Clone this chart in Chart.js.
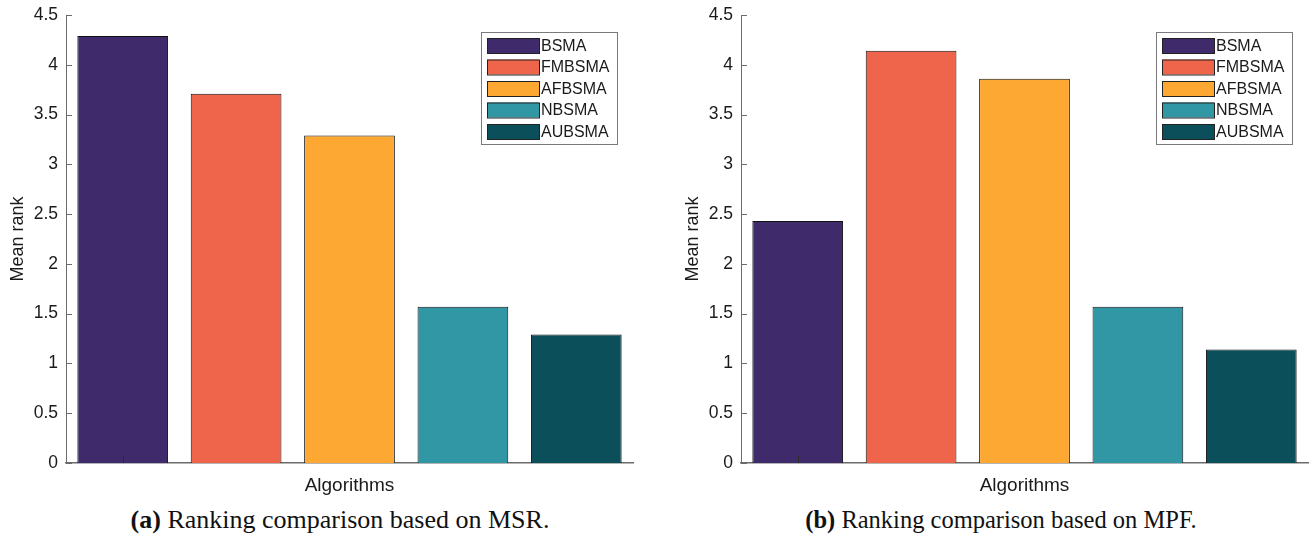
<!DOCTYPE html>
<html>
<head>
<meta charset="utf-8">
<script src="https://cdn.jsdelivr.net/npm/chart.js@4.4.1/dist/chart.umd.min.js"></script>
<style>
  html, body { margin: 0; padding: 0; background: #fff; }
  body { width: 1310px; height: 540px; position: relative; overflow: hidden; }
  .panel { position: absolute; top: 0; width: 636px; height: 500px; }
  .panel canvas { width: 636px !important; height: 500px !important; }
  .caption {
    position: absolute; top: 504px; width: 680px; text-align: center;
    font-family: "Liberation Serif", "Times New Roman", serif; font-size: 26px; color: #111;
    line-height: 32px;
  }
  .caption b { font-weight: bold; }
</style>
</head>
<body>
<div class="panel" style="left:0px"><canvas id="chartA" width="636" height="500"></canvas></div>
<div class="panel" style="left:675px"><canvas id="chartB" width="636" height="500"></canvas></div>
<div class="caption" style="left:0px"><b>(a)</b> Ranking comparison based on MSR.</div>
<div class="caption" style="left:661px; font-size:24.5px"><b>(b)</b> Ranking comparison based on MPF.</div>

<script>
// Algorithms compared and their mean ranks
const algorithms = ['BSMA', 'FMBSMA', 'AFBSMA', 'NBSMA', 'AUBSMA'];
const msrMeanRank = [4.29, 3.71, 3.29, 1.57, 1.29];
const mpfMeanRank = [2.43, 4.14, 3.86, 1.57, 1.14];
const yTickValues = [0, 0.5, 1, 1.5, 2, 2.5, 3, 3.5, 4, 4.5];
const xAxisTitle = 'Algorithms';
const yAxisTitle = 'Mean rank';

const barColors = ['#3f2b6b', '#ef654b', '#fda832', '#3197a5', '#0a4f5a'];
const FONT = '"Liberation Sans", Arial, Helvetica, sans-serif';
const AXIS_COLOR = '#6b6b6b';
const TEXT_COLOR = '#1a1a1a';

// Short inward tick marks on the y axis plus one at the first bar centre
const inwardTicks = {
  id: 'inwardTicks',
  afterDatasetsDraw(chart) {
    const { ctx, chartArea } = chart;
    const y = chart.scales.y;
    ctx.save();
    ctx.strokeStyle = AXIS_COLOR;
    ctx.lineWidth = 1;
    ctx.beginPath();
    y.ticks.forEach(t => {
      const py = Math.round(y.getPixelForValue(t.value)) + 0.5;
      ctx.moveTo(chartArea.left, py);
      ctx.lineTo(chartArea.left + 6, py);
    });
    ctx.stroke();
    const first = chart.getDatasetMeta(0).data[0];
    if (first) {
      ctx.strokeStyle = '#2a2a2a';
      ctx.beginPath();
      const px = Math.round(first.x) + 0.5;
      ctx.moveTo(px, chartArea.bottom);
      ctx.lineTo(px, chartArea.bottom - 7);
      ctx.stroke();
    }
    ctx.restore();
  }
};

// Boxed legend placed in the upper-right corner of the plot area
const boxedLegend = {
  id: 'boxedLegend',
  afterDraw(chart) {
    const { ctx, chartArea } = chart;
    const boxW = 136, boxH = 112;
    const x0 = chartArea.right - 16 - boxW;
    const y0 = chartArea.top + 17;
    ctx.save();
    ctx.fillStyle = '#ffffff';
    ctx.fillRect(x0, y0, boxW, boxH);
    ctx.strokeStyle = '#7a7a7a';
    ctx.lineWidth = 1;
    ctx.strokeRect(x0 + 0.5, y0 + 0.5, boxW, boxH);
    ctx.font = '16px ' + FONT;
    ctx.textBaseline = 'middle';
    chart.data.datasets.forEach((ds, i) => {
      const sy = y0 + 6 + i * 21.5;
      ctx.fillStyle = ds.backgroundColor;
      ctx.fillRect(x0 + 6, sy, 52, 15);
      ctx.strokeStyle = '#222';
      ctx.strokeRect(x0 + 6.5, sy + 0.5, 52, 15);
      ctx.fillStyle = TEXT_COLOR;
      ctx.fillText(ds.label, x0 + 60, sy + 8.5);
    });
    ctx.restore();
  }
};

function makeChart(id, values) {
  const datasets = algorithms.map((name, i) => ({
    label: name,
    data: [values[i]],
    backgroundColor: barColors[i],
    borderColor: '#111111',
    borderWidth: 1,
    borderSkipped: 'bottom',
    categoryPercentage: 1.0,
    barPercentage: 0.8
  }));
  return new Chart(document.getElementById(id), {
    type: 'bar',
    data: { labels: [''], datasets },
    plugins: [inwardTicks, boxedLegend],
    options: {
      responsive: false,
      animation: false,
      layout: { padding: { top: 15, right: 3, left: 0, bottom: 0 } },
      plugins: { legend: { display: false }, tooltip: { enabled: false } },
      scales: {
        x: {
          grid: { display: false, drawTicks: false },
          border: { display: true, color: AXIS_COLOR, width: 1.5 },
          ticks: { display: false },
          title: {
            display: true, text: xAxisTitle, color: TEXT_COLOR,
            font: { family: FONT, size: 19 }, padding: { top: 0, bottom: 3 }
          },
          afterFit(s) { s.height = 37; s.paddingLeft = 0; s.paddingRight = 0; }
        },
        y: {
          min: 0, max: 4.5,
          afterBuildTicks(s) { s.ticks = yTickValues.map(v => ({ value: v })); },
          grid: { display: false, drawTicks: false },
          border: { display: true, color: AXIS_COLOR, width: 1 },
          ticks: {
            color: TEXT_COLOR, padding: 8,
            font: { family: FONT, size: 17.5 },
            callback: v => String(v)
          },
          title: {
            display: true, text: yAxisTitle, color: TEXT_COLOR,
            font: { family: FONT, size: 18 }, padding: { top: 7, bottom: 0 }
          },
          afterFit(s) { s.width = 66; s.paddingTop = 0; s.paddingBottom = 0; }
        }
      }
    }
  });
}

makeChart('chartA', msrMeanRank);
makeChart('chartB', mpfMeanRank);
</script>
</body>
</html>
